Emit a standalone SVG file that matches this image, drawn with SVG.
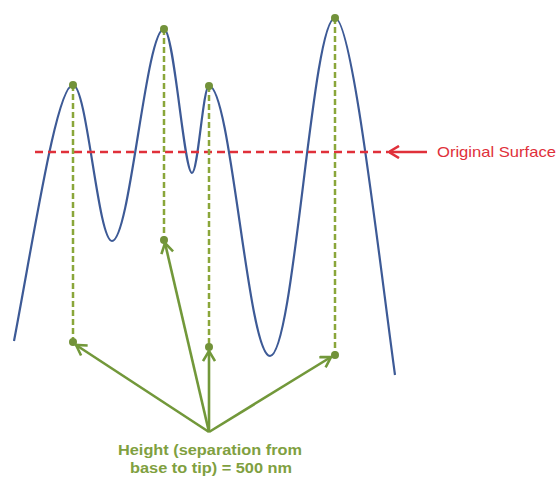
<svg xmlns="http://www.w3.org/2000/svg" width="558" height="478" viewBox="0 0 558 478">
<defs>
<style>
.curve{fill:none;stroke:#3d5a96;stroke-width:2.2}
.vdash{fill:none;stroke:#8aa63a;stroke-width:2.5;stroke-dasharray:6 3}
.dot{fill:#72923a}
.arr{fill:none;stroke:#72983a;stroke-width:2.6}
.red{fill:none;stroke:#e0303a;stroke-width:2.5}
.lbl{font-family:"Liberation Sans",Arial,sans-serif;font-size:14px;fill:#7fa040;font-weight:bold}
</style>
<marker id="ga" markerWidth="14" markerHeight="14" refX="11" refY="7" orient="auto" markerUnits="userSpaceOnUse">
<path d="M1,1 L11,7 L1,13" fill="none" stroke="#72983a" stroke-width="2.6"/>
</marker>
<marker id="ra" markerWidth="14" markerHeight="14" refX="11" refY="7" orient="auto" markerUnits="userSpaceOnUse">
<path d="M1,1 L11,7 L1,13" fill="none" stroke="#e0303a" stroke-width="2.6"/>
</marker>
</defs>
<rect width="558" height="478" fill="#ffffff"/>
<g id="surface">
<path class="curve" d="M14,341 C35,230 57,85 73,85 C87,85 98,241 112,241 C130,241 146,29 164,29 C174,29 184,173 192,173 C198,173 203,86 209,86 C231,86 248,356 270,356 C294,356 312,18 335,18 C352,18 378,250 395,375"/>
</g>
<g id="original-surface">
<line class="red" x1="35" y1="152" x2="388" y2="152" stroke-dasharray="8 5"/>
<text x="437" y="157" textLength="119" lengthAdjust="spacingAndGlyphs" style="font-family:'Liberation Sans',Arial,sans-serif;font-size:15px;fill:#e0303a">Original Surface</text>
</g>
<g id="heights">
<line class="vdash" x1="73" y1="85" x2="73" y2="342"/>
<line class="vdash" x1="164" y1="29" x2="164" y2="240"/>
<line class="vdash" x1="209" y1="86" x2="209" y2="347"/>
<line class="vdash" x1="335" y1="18" x2="335" y2="355"/>
<circle class="dot" cx="73" cy="85" r="4"/>
<circle class="dot" cx="164" cy="29" r="4"/>
<circle class="dot" cx="209" cy="86" r="4"/>
<circle class="dot" cx="335" cy="18" r="4"/>
<circle class="dot" cx="73" cy="342" r="4"/>
<circle class="dot" cx="164" cy="240" r="4"/>
<circle class="dot" cx="209" cy="347" r="4"/>
<circle class="dot" cx="335" cy="355" r="4"/>
</g>
<g id="connectors">
<line class="red" x1="427" y1="152" x2="389" y2="152" marker-end="url(#ra)"/>
<line class="arr" x1="209" y1="432" x2="76" y2="345" marker-end="url(#ga)"/>
<line class="arr" x1="209" y1="432" x2="165" y2="243" marker-end="url(#ga)"/>
<line class="arr" x1="209" y1="432" x2="209" y2="351" marker-end="url(#ga)"/>
<line class="arr" x1="209" y1="432" x2="331" y2="357" marker-end="url(#ga)"/>
</g>
<g id="label">
<text class="lbl" x="210" y="455" text-anchor="middle" textLength="184" lengthAdjust="spacingAndGlyphs">Height (separation from</text>
<text class="lbl" x="211" y="473" text-anchor="middle" textLength="162" lengthAdjust="spacingAndGlyphs">base to tip) = 500 nm</text>
</g>
</svg>
